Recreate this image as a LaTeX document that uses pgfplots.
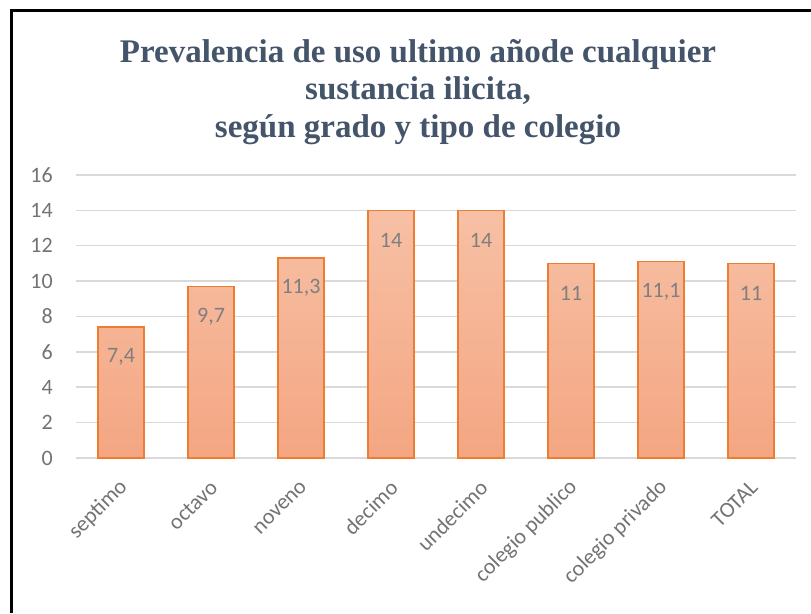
\documentclass[border=0pt]{standalone}
\usepackage{pgfplots}
\pgfplotsset{compat=1.18}
\usepackage{fontspec}
\setmainfont{Carlito}
\newfontfamily\titlefont{Liberation Serif}
\definecolor{titlecol}{HTML}{44546A}
\definecolor{baredge}{HTML}{ED7D31}
\definecolor{bartop}{HTML}{F7C0A5}
\definecolor{barbot}{HTML}{F4A682}
\definecolor{gridcol}{HTML}{D9D9D9}
\definecolor{labcol}{HTML}{7F7F7F}
\definecolor{tickcol}{HTML}{737373}
\begin{document}
\begin{tikzpicture}
\useasboundingbox (0,0) rectangle (811pt,613pt);
\fill[white] (0,0) rectangle (811pt,613pt);
\draw[line width=3pt] (11pt,0) -- (11pt,602pt) -- (811pt,602pt);
\node[font=\titlefont\fontsize{33}{37.5}\selectfont\bfseries, text=titlecol, align=center, anchor=north, inner sep=0pt] at (418pt,574pt)
  {Prevalencia de uso ultimo añode cualquier\\sustancia ilicita,\\según grado y tipo de colegio};
\begin{axis}[
  at={(76pt,155pt)}, anchor=south west,
  scale only axis, width=720pt, height=283pt,
  xmin=-0.5, xmax=7.5, ymin=0, ymax=16,
  ytick={0,2,...,16},
  xtick={0,...,7},
  xticklabels={septimo,octavo,noveno,decimo,undecimo,colegio publico,colegio privado,TOTAL},
  axis line style={draw=none},
  major tick length=0pt,
  ymajorgrids, grid style={gridcol, line width=1.5pt},
  /pgf/number format/use comma,
  /pgf/number format/assume math mode=true,
  yticklabel style={font=\fontsize{22}{22}\selectfont, text=tickcol, inner sep=0pt, xshift=-23pt, anchor=east},
  xticklabel style={font=\fontsize{22}{22}\selectfont, text=tickcol, inner sep=0pt, anchor=east, xshift=3pt, yshift=-26pt, rotate=45},
  clip=false,
]
\addplot[ybar, bar width=46pt, draw=baredge, line width=1.5pt,
  top color=bartop, bottom color=barbot,
  nodes near coords,
  nodes near coords style={font=\fontsize{22}{22}\selectfont, text=labcol, anchor=center, yshift=-30pt}]
  coordinates {(0,7.4) (1,9.7) (2,11.3) (3,14) (4,14) (5,11) (6,11.1) (7,11)};
\end{axis}
\end{tikzpicture}
\end{document}
